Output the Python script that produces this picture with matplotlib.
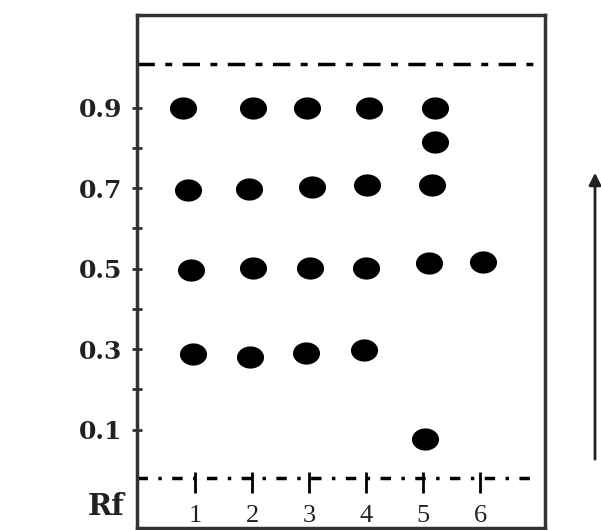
import matplotlib.pyplot as plt
from matplotlib.path import Path
from matplotlib.transforms import Affine2D
from matplotlib.patches import FancyArrowPatch

# lanes and Rf of the spots
lanes = [1, 2, 3, 4, 5, 6]
lane1_x = [0.79, 0.88, 0.93, 0.96]
lane1_rf = [0.90, 0.695, 0.497, 0.288]
lane2_x = [2.02, 1.95, 2.02, 1.97]
lane2_rf = [0.90, 0.697, 0.502, 0.281]
lane3_x = [2.97, 3.05, 3.02, 2.95]
lane3_rf = [0.90, 0.703, 0.502, 0.291]
lane4_x = [4.05, 4.02, 4.0, 3.97]
lane4_rf = [0.90, 0.708, 0.502, 0.298]
lane5_x = [5.21, 5.21, 5.16, 5.11, 5.04]
lane5_rf = [0.90, 0.815, 0.708, 0.514, 0.077]
lane6_x = [6.05]
lane6_rf = [0.517]

rf_ticks = [0.1, 0.2, 0.3, 0.4, 0.5, 0.6, 0.7, 0.8, 0.9]
rf_labels = ['0.1', '', '0.3', '', '0.5', '', '0.7', '', '0.9']
front_rf = 1.009
origin_rf = -0.02

plt.rcParams['font.family'] = ['Liberation Serif', 'DejaVu Serif']

fig = plt.figure(figsize=(6.01, 5.30), dpi=100)
ax = fig.add_axes([137/601, 2/530, 408/601, 513/530])
ax.set_xlim(-0.02, 7.14)
ax.set_ylim(-0.144, 1.130)

for s in ['left', 'right', 'top', 'bottom']:
    ax.spines[s].set_color('#333333')
    ax.spines[s].set_linewidth(2.5)

# slightly flattened spot
spot = Path.unit_circle().transformed(Affine2D().scale(1.0, 0.82))

xs = [lane1_x, lane2_x, lane3_x, lane4_x, lane5_x, lane6_x]
rfs = [lane1_rf, lane2_rf, lane3_rf, lane4_rf, lane5_rf, lane6_rf]
for x, y in zip(xs, rfs):
    ax.plot(x, y, linestyle='none', marker=spot, color='black',
            markersize=19.5, markeredgewidth=0)

# solvent front and origin lines
ax.plot([-0.02, 7.0], [front_rf, front_rf], color='black', lw=2.5,
        dashes=(5, 3, 2, 3))
ax.plot([-0.02, 7.0], [origin_rf, origin_rf], color='black', lw=2.5,
        dashes=(3, 3, 1, 3))
# lane marks on origin
ax.vlines(lanes, origin_rf - 0.037, origin_rf + 0.015, color='black', lw=2)

ax.set_yticks(rf_ticks)
ax.set_yticklabels(rf_labels, fontsize=18, fontweight='bold',
                   family='DejaVu Serif')
ax.tick_params(axis='y', direction='inout', length=7, width=2, pad=7,
               colors='#333333', labelcolor='#222222')
ax.set_xticks([])

for lane in lanes:
    ax.text(lane, -0.114, str(lane), ha='center', va='center', fontsize=19,
            color='#222222')
ax.text(-0.24, -0.09, 'Rf', ha='right', va='center', fontsize=21,
        fontweight='bold', family='DejaVu Serif', color='#222222')

# direction arrow
fig.patches.append(FancyArrowPatch(
    (595/601, 1 - 462/530), (595/601, 1 - 170/530),
    transform=fig.transFigure, arrowstyle='-|>', mutation_scale=18,
    color='#222222', lw=2))

fig.savefig('out.png', dpi=100)
